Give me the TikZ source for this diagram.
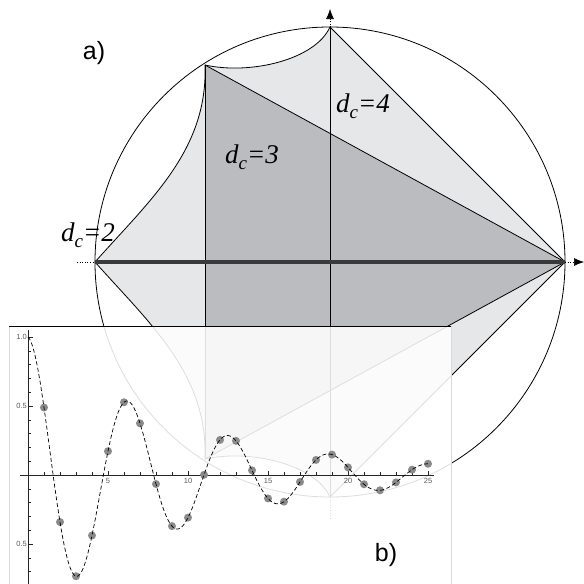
\documentclass[tikz,border=0pt]{standalone}
\usepackage{fontspec}
\setmainfont{Liberation Serif}
\setsansfont{Liberation Sans}
\usetikzlibrary{arrows.meta}
\definecolor{lightfill}{HTML}{E6E7E9}
\definecolor{darkfill}{HTML}{BBBCBF}
\definecolor{axisdark}{HTML}{3A3A3A}
\definecolor{dotgray}{HTML}{8A8A8A}
\definecolor{ticklabel}{HTML}{5A5A5A}
\newcommand{\dclab}[1]{d\raisebox{-0.22em}{\fontsize{19}{19}\selectfont c}=#1}
\begin{document}
\begin{tikzpicture}[x=1pt,y=-1pt,
  edge/.style={black, line width=0.8pt},
  dclabel/.style={font=\fontsize{27}{30}\selectfont\itshape, inner sep=0pt},
  panellabel/.style={font=\sffamily\fontsize{25}{28}\selectfont, inner sep=0pt},
  ticklbl/.style={font=\sffamily\fontsize{7.5}{8}\selectfont, text=ticklabel, inner sep=1pt},
  datadot/.style={circle, fill=dotgray, inner sep=0pt, minimum size=8pt},
  axtip/.style={-{Latex[length=10pt,width=8pt]}}]
\useasboundingbox (0,0) rectangle (584,584);
\coordinate (O) at (330,262);
\coordinate (A) at (95,262);
\coordinate (B) at (205,65);
\coordinate (C) at (330,27);
\coordinate (D) at (565,262);
\coordinate (Bp) at (205,459);
\coordinate (Cp) at (330,497);
\coordinate (Aext) at (77,262);
\coordinate (xtip) at (584,262);
\coordinate (ytip) at (330,9);
\coordinate (Cpext) at (330,520);

% light region
\fill[lightfill] (A) .. controls (150,200) and (208,150) .. (B)
  .. controls (250,75) and (315,60) .. (C) -- (D) -- (Cp)
  .. controls (315,464) and (250,449) .. (Bp)
  .. controls (208,374) and (150,324) .. (A) -- cycle;
% dark triangle
\fill[darkfill] (B) -- (D) -- (Bp) -- cycle;

% outlines
\draw[edge] (A) .. controls (150,200) and (208,150) .. (B)
  .. controls (250,75) and (315,60) .. (C);
\draw[edge] (A) .. controls (150,324) and (208,374) .. (Bp)
  .. controls (250,449) and (315,464) .. (Cp);
\draw[edge] (B) -- (D) -- (Bp);
\draw[edge] (C) -- (D) -- (Cp);
\draw[edge] (B) -- (Bp);
\draw[edge] (C) -- (Cp);
\draw[edge] (O) circle[radius=235pt];

% axes
\draw[axisdark, line width=4.8pt] (A) -- (D);
\draw[black, dotted, line width=0.6pt] (Aext) -- (A);
\draw[black, dotted, line width=0.6pt, axtip] (D) -- (xtip);
\draw[black, dotted, line width=0.6pt, axtip] (C) -- (ytip);
\draw[black, dotted, line width=0.6pt] (Cp) -- (Cpext);

% labels a)
\node[panellabel] (la) at (94,53) {a)};
\node[dclabel] (l2) at (88,235) {\dclab{2}};
\node[dclabel] (l3) at (252,157) {\dclab{3}};
\node[dclabel] (l4) at (363,106) {\dclab{4}};

% panel b)
\fill[white, fill opacity=0.87] (9,326) rectangle (451,590);
\draw[black!15, line width=0.6pt] (9,326) -- (9,584);
\draw[black!15, line width=0.6pt] (451,326) -- (451,584);
\draw[black, line width=0.8pt] (9,326) -- (451,326);

\begin{scope}[shift={(28pt,-475pt)}, x=16pt, y=138pt]
  \draw[black!85, line width=0.6pt] (-0.5,0) -- (25.4,0);
  \draw[black!85, line width=0.6pt] (0,-0.83) -- (0,1.05);
  \foreach \i in {1,...,25} \draw[black!85, line width=0.5pt] (\i,0) -- +(0,3pt);
  \foreach \i in {5,10,15,20,25} {
    \draw[black!85, line width=0.5pt] (\i,0) -- +(0,4.5pt);
    \node[ticklbl, anchor=north] (xl\i) at (\i,-0.012) {\i};
  }
  \foreach \v in {-8,...,10} \draw[black!85, line width=0.5pt] (0,\v/10) -- +(3pt,0);
  \foreach \v in {-5,5,10} \draw[black!85, line width=0.5pt] (0,\v/10) -- +(4.5pt,0);
  \node[ticklbl, anchor=east] (yl1) at (0,1) {1.0};
  \node[ticklbl, anchor=east] (yl2) at (0,0.5) {0.5};
  \node[ticklbl, anchor=east] (yl3) at (0,-0.5) {0.5};
  \foreach \n in {1,...,25}
    \node[datadot] (d\n) at (\n, {exp(-0.1*\n)*cos(\n r)}) {};
  \draw[black, line width=0.7pt, dash pattern=on 4pt off 2.5pt]
    plot[domain=0:25, samples=400, smooth] (\x, {exp(-0.1*\x)*cos(\x r)});
\end{scope}

\node[panellabel] (lb) at (386,555) {b)};
\end{tikzpicture}
\end{document}
